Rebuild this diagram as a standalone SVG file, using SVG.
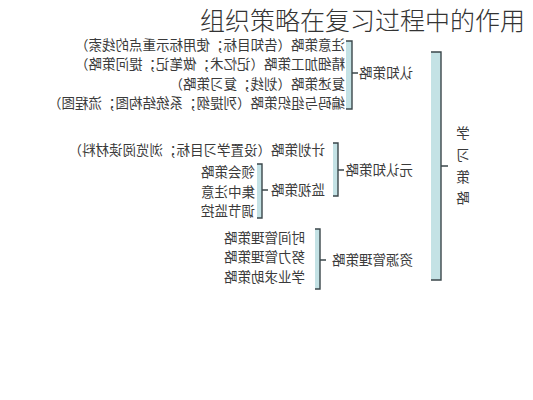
<svg xmlns="http://www.w3.org/2000/svg" width="533" height="400" viewBox="0 0 533 400">
<style>
.t{font-family:"Noto Sans CJK SC","Noto Sans",sans-serif;font-size:13.5px;fill:#3a3a3a;}
.title{font-family:"Noto Sans CJK SC","Noto Sans",sans-serif;font-size:25px;font-weight:300;fill:#333;}
.band{fill:#c4e2e5;}
.br{fill:none;stroke:#3b474b;stroke-width:1.4;}
</style>
<rect width="533" height="400" fill="#fff"/>
<g id="title"><text class="title" x="200" y="30">组织策略在复习过程中的作用</text></g>
<g id="connectors">
  <rect class="band" x="346" y="41" width="6" height="68"/>
  <path class="br" d="M346,41H352V109H346M352,73H358"/>
  <rect class="band" x="431" y="52" width="10" height="228"/>
  <path class="br" d="M431,52H441V280H431M441,166H448"/>
  <rect class="band" x="333" y="143" width="5" height="53"/>
  <path class="br" d="M333,143H338V196H333M338,170H344"/>
  <rect class="band" x="257" y="164" width="5" height="54"/>
  <path class="br" d="M257,164H262V218H257M262,190H268"/>
  <rect class="band" x="315" y="229" width="5" height="60"/>
  <path class="br" d="M315,229H320V289H315M320,260H326"/>
</g>
<g transform="matrix(-1,0,0,1,533,0)">
  <g id="root"><text class="t" text-anchor="middle" x="70" y="138">学</text><text class="t" text-anchor="middle" x="70" y="160">习</text><text class="t" text-anchor="middle" x="70" y="182">策</text><text class="t" text-anchor="middle" x="70" y="203">略</text></g>
  <g id="cognitive"><text class="t" x="120" y="78">认知策略</text></g>
  <g id="c1"><text class="t" x="188" y="50">注意策略（告知目标；使用标示重点的线索）</text></g>
  <g id="c2"><text class="t" x="188" y="69">精细加工策略（记忆术；做笔记；提问策略）</text></g>
  <g id="c3"><text class="t" x="188" y="89">复述策略（划线；复习策略）</text></g>
  <g id="c4"><text class="t" x="188" y="108">编码与组织策略（列提纲；系统结构图；流程图）</text></g>
  <g id="meta"><text class="t" x="120" y="175">元认知策略</text></g>
  <g id="m1"><text class="t" x="208" y="155">计划策略（设置学习目标；浏览阅读材料）</text></g>
  <g id="m2"><text class="t" x="208" y="195">监视策略</text></g>
  <g id="m21"><text class="t" x="278" y="177">领会策略</text></g>
  <g id="m22"><text class="t" x="278" y="197">集中注意</text></g>
  <g id="m23"><text class="t" x="278" y="216">调节监控</text></g>
  <g id="resource"><text class="t" x="120" y="265">资源管理策略</text></g>
  <g id="r1"><text class="t" x="228" y="243">时间管理策略</text></g>
  <g id="r2"><text class="t" x="228" y="262">努力管理策略</text></g>
  <g id="r3"><text class="t" x="228" y="282">学业求助策略</text></g>
</g>
</svg>
